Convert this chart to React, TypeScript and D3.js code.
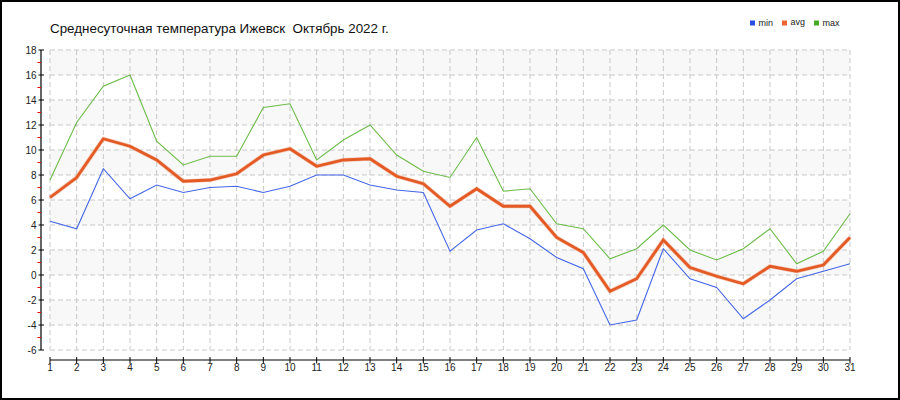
import React from 'react';
import * as d3 from 'd3';

const days = [1, 2, 3, 4, 5, 6, 7, 8, 9, 10, 11, 12, 13, 14, 15, 16, 17, 18, 19, 20, 21, 22, 23, 24, 25, 26, 27, 28, 29, 30, 31];
const minT = [4.3, 3.7, 8.5, 6.1, 7.2, 6.6, 7.0, 7.1, 6.6, 7.1, 8.0, 8.0, 7.2, 6.8, 6.6, 1.9, 3.6, 4.1, 2.9, 1.4, 0.5, -4.0, -3.6, 2.1, -0.3, -1.0, -3.5, -2.0, -0.3, 0.3, 0.9];
const avgT = [6.2, 7.8, 10.9, 10.3, 9.2, 7.5, 7.6, 8.1, 9.6, 10.1, 8.7, 9.2, 9.3, 7.9, 7.3, 5.5, 6.9, 5.5, 5.5, 3.0, 1.8, -1.3, -0.3, 2.8, 0.6, -0.1, -0.7, 0.7, 0.3, 0.8, 3.0];
const maxT = [7.6, 12.2, 15.1, 16.0, 10.7, 8.8, 9.5, 9.5, 13.4, 13.7, 9.2, 10.8, 12.0, 9.6, 8.3, 7.8, 11.0, 6.7, 6.9, 4.1, 3.7, 1.3, 2.1, 4.0, 2.0, 1.2, 2.1, 3.7, 0.9, 1.9, 4.9];
const yTicks = [-6, -4, -2, 0, 2, 4, 6, 8, 10, 12, 14, 16, 18];
const yMinor = [-5, -3, -1, 1, 3, 5, 7, 9, 11, 13, 15, 17];
const seriesNames = ['min', 'avg', 'max'];
const title = 'Среднесуточная температура Ижевск  Октябрь 2022 г.';

export default function App() {
  const W = 900, H = 400;
  const x = d3.scaleLinear().domain([1, 31]).range([50, 850]);
  const y = d3.scaleLinear().domain([-6, 18]).range([350, 50]);
  const line = (vals: number[]) =>
    d3.line<number>().x((_, i) => x(days[i])).y((v) => y(v))(vals) || '';
  const font = 'Liberation Sans, Arial, sans-serif';
  const bands = yTicks.filter((t, i) => i < yTicks.length - 1 && ((18 - yTicks[i + 1]) / 2) % 2 === 0);
  const legendColors = ['#2a4ee0', '#ee6633', '#44aa22'];
  const legendX = [750, 782, 814];
  return (
    <svg width={W} height={H} style={{ position: 'absolute', left: 0, top: 0, background: '#fff' }}>
      <rect x={1} y={1} width={W - 2} height={H - 2} fill="#fff" stroke="#000" strokeWidth={2} />
      <text x={50} y={33} fontFamily={font} fontSize={13.4} fill="#111" style={{ whiteSpace: 'pre' }}>{title}</text>
      {/* bands */}
      {bands.map((t) => (
        <rect key={'b' + t} x={x(1)} y={y(t + 2)} width={x(31) - x(1)} height={y(t) - y(t + 2)} fill="#f8f8f8" />
      ))}
      {/* grid */}
      {yTicks.map((t) => (
        <line key={'gy' + t} x1={x(1)} x2={x(31)} y1={y(t)} y2={y(t)} stroke="#c8c8c8" strokeDasharray="5,3" />
      ))}
      {days.map((d) => (
        <line key={'gx' + d} x1={x(d)} x2={x(d)} y1={y(18)} y2={y(-6)} stroke="#c8c8c8" strokeDasharray="5,3" />
      ))}
      {/* y axis */}
      <line x1={41} x2={41} y1={y(18)} y2={y(-6)} stroke="#000" strokeWidth={1.2} />
      {yMinor.map((t) => (
        <line key={'ym' + t} x1={37.5} x2={41} y1={y(t)} y2={y(t)} stroke="#e00" />
      ))}
      {yTicks.map((t) => (
        <g key={'yt' + t}>
          <line x1={38.5} x2={44} y1={y(t)} y2={y(t)} stroke="#000" />
          <text x={36.5} y={y(t)} dy="0.35em" textAnchor="end" fontFamily={font} fontSize={10} fill="#222">{t}</text>
        </g>
      ))}
      {/* x axis */}
      <line x1={x(1)} x2={x(31)} y1={360} y2={360} stroke="#000" strokeWidth={1.2} />
      {days.map((d) => (
        <g key={'xt' + d}>
          <line x1={x(d)} x2={x(d)} y1={357} y2={363.5} stroke="#000" />
          <text x={x(d)} y={370.5} textAnchor="middle" fontFamily={font} fontSize={10} fill="#222">{d}</text>
        </g>
      ))}
      {/* series */}
      <path d={line(maxT)} fill="none" stroke="#6cbb48" strokeWidth={1.1} />
      <path d={line(minT)} fill="none" stroke="#4466e6" strokeWidth={1.1} />
      <path d={line(avgT)} fill="none" stroke="#f4b59a" strokeWidth={4.2} strokeLinejoin="round" opacity={0.7} />
      <path d={line(avgT)} fill="none" stroke="#e35a25" strokeWidth={2.8} />
      {/* legend */}
      {seriesNames.map((n, i) => (
        <g key={n}>
          <rect x={legendX[i]} y={20.5} width={5} height={5} fill={legendColors[i]} />
          <text x={legendX[i] + 8.5} y={i === 1 ? 24.5 : 26} fontFamily={font} fontSize={9} fill="#222">{n}</text>
        </g>
      ))}
    </svg>
  );
}
